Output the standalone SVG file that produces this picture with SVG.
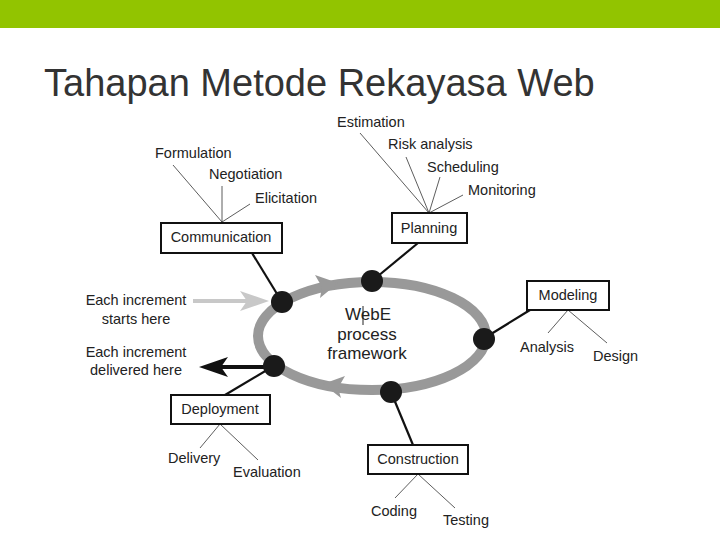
<svg xmlns="http://www.w3.org/2000/svg" width="720" height="540" viewBox="0 0 720 540">
<style>
.lbl{font-family:"Liberation Sans",Arial,sans-serif;font-size:14.5px;fill:#222}
.mid{text-anchor:middle}
.box{fill:#fff;stroke:#111;stroke-width:2}
.thin{stroke:#333;stroke-width:0.8;fill:none}
.link{stroke:#111;stroke-width:2.2;fill:none}
.dot{fill:#1a1a1a}
.ctr{font-family:"Liberation Sans",Arial,sans-serif;font-size:17px;fill:#222;text-anchor:middle}
</style>
<rect width="720" height="540" fill="#fff"/>
<rect x="0" y="0" width="720" height="28" fill="#92c400"/>
<text x="44" y="96" font-family="'Liberation Sans',Arial,sans-serif" font-size="38" fill="#333">Tahapan Metode Rekayasa Web</text>

<g id="cycle">
<ellipse cx="372" cy="336" rx="114" ry="54" fill="none" stroke="#999" stroke-width="10"/>
<polygon points="338,283 315,275 322,287 320,298" fill="#999"/>
<polygon points="323,384 345,376 338,388 341,398" fill="#999"/>
<text class="ctr" x="368" y="320">WebE</text>
<line x1="363" y1="306" x2="363" y2="325" stroke="#222" stroke-width="1"/>
<text class="ctr" x="367" y="340">process</text>
<text class="ctr" x="367" y="359">framework</text>
</g>

<g id="connectors">
<line class="link" x1="252" y1="253" x2="282" y2="302"/>
<line class="link" x1="418" y1="243" x2="372" y2="281"/>
<line class="link" x1="530" y1="310" x2="483" y2="339"/>
<line class="link" x1="225" y1="395" x2="272" y2="367"/>
<line class="link" x1="391" y1="392" x2="413" y2="445"/>
<line class="thin" x1="173" y1="165" x2="222" y2="222"/>
<line class="thin" x1="222" y1="186" x2="222" y2="222"/>
<line class="thin" x1="250" y1="204" x2="222" y2="222"/>
<line class="thin" x1="360" y1="133" x2="429" y2="213"/>
<line class="thin" x1="406" y1="157" x2="429" y2="213"/>
<line class="thin" x1="440" y1="177" x2="429" y2="213"/>
<line class="thin" x1="463" y1="195" x2="429" y2="213"/>
<line class="thin" x1="568" y1="310" x2="548" y2="333"/>
<line class="thin" x1="568" y1="310" x2="607" y2="343"/>
<line class="thin" x1="220" y1="424" x2="200" y2="448"/>
<line class="thin" x1="220" y1="424" x2="258" y2="460"/>
<line class="thin" x1="418" y1="474" x2="395" y2="498"/>
<line class="thin" x1="418" y1="474" x2="455" y2="508"/>
<line x1="193" y1="301" x2="250" y2="301" stroke="#c8c8c8" stroke-width="4"/>
<polygon points="269,301 240,291 247,301 240,311" fill="#c8c8c8"/>
<line x1="272" y1="367" x2="215" y2="367" stroke="#111" stroke-width="4"/>
<polygon points="199,367 228,357 221,367 228,377" fill="#111"/>
</g>

<g id="dots">
<circle class="dot" cx="282" cy="302" r="11"/>
<circle class="dot" cx="372" cy="281" r="11"/>
<circle class="dot" cx="484" cy="339" r="11"/>
<circle class="dot" cx="274" cy="366" r="11"/>
<circle class="dot" cx="391" cy="392" r="11"/>
</g>

<g id="communication">
<rect class="box" x="161" y="223" width="121" height="30"/>
<text class="lbl mid" x="221" y="242">Communication</text>
<text class="lbl" x="155" y="158">Formulation</text>
<text class="lbl" x="209" y="179">Negotiation</text>
<text class="lbl" x="255" y="203">Elicitation</text>
</g>

<g id="planning">
<rect class="box" x="392" y="213" width="75" height="30"/>
<text class="lbl mid" x="429" y="233">Planning</text>
<text class="lbl" x="337" y="127">Estimation</text>
<text class="lbl" x="388" y="149">Risk analysis</text>
<text class="lbl" x="427" y="172">Scheduling</text>
<text class="lbl" x="468" y="195">Monitoring</text>
</g>

<g id="modeling">
<rect class="box" x="527" y="281" width="82" height="29"/>
<text class="lbl mid" x="568" y="300">Modeling</text>
<text class="lbl" x="520" y="352">Analysis</text>
<text class="lbl" x="593" y="361">Design</text>
</g>

<g id="deployment">
<rect class="box" x="171" y="395" width="99" height="29"/>
<text class="lbl mid" x="220" y="414">Deployment</text>
<text class="lbl" x="168" y="463">Delivery</text>
<text class="lbl" x="233" y="477">Evaluation</text>
</g>

<g id="construction">
<rect class="box" x="368" y="445" width="100" height="29"/>
<text class="lbl mid" x="418" y="464">Construction</text>
<text class="lbl" x="371" y="516">Coding</text>
<text class="lbl" x="443" y="525">Testing</text>
</g>

<g id="notes">
<text class="lbl mid" x="136" y="305">Each increment</text>
<text class="lbl mid" x="136" y="324">starts here</text>
<text class="lbl mid" x="136" y="357">Each increment</text>
<text class="lbl mid" x="136" y="375">delivered here</text>
</g>
</svg>
